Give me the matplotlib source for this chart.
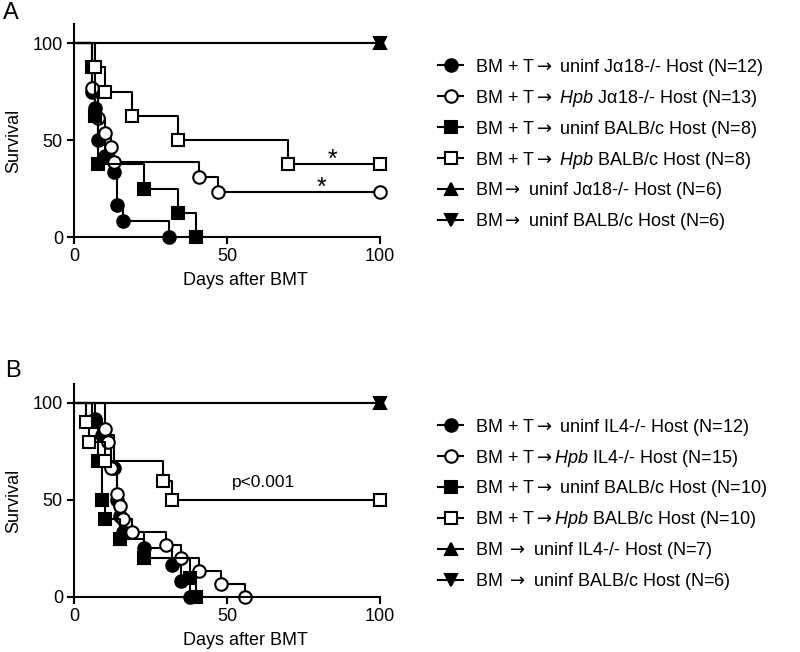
import matplotlib
matplotlib.use('Agg')
import matplotlib.pyplot as plt
from matplotlib.lines import Line2D

plt.rcParams['font.family'] = ['Liberation Sans', 'DejaVu Sans']
plt.rcParams['mathtext.fontset'] = 'custom'
plt.rcParams['mathtext.rm'] = 'DejaVu Sans'
plt.rcParams['mathtext.it'] = 'Liberation Sans:italic'

ARROW = '$\\rightarrow$'

# ---- panel A: Kaplan-Meier steps (day, % survival); last point at day 100 = censored
a_fc_days = [0, 6, 7, 8, 10, 13, 14, 16, 31]
a_fc_surv = [100, 75, 66.7, 50, 41.7, 33.3, 16.7, 8.3, 0]
a_oc_days = [0, 6, 8, 10, 12, 13, 41, 47, 100]
a_oc_surv = [100, 76.9, 61.5, 53.8, 46.2, 38.5, 30.8, 23.1, 23.1]
a_fs_days = [0, 6, 7, 8, 23, 34, 40]
a_fs_surv = [100, 87.5, 62.5, 37.5, 25, 12.5, 0]
a_os_days = [0, 7, 10, 19, 34, 70, 100]
a_os_surv = [100, 87.5, 75, 62.5, 50, 37.5, 37.5]
a_tu_days = [0, 100]
a_tu_surv = [100, 100]
a_td_days = [0, 100]
a_td_surv = [100, 100]
a_labels = [
    'BM + T' + ARROW + ' uninf J\u03b118-/- Host (N=12)',
    'BM + T' + ARROW + ' $\\mathit{Hpb}$ J\u03b118-/- Host (N=13)',
    'BM + T' + ARROW + ' uninf BALB/c Host (N=8)',
    'BM + T' + ARROW + ' $\\mathit{Hpb}$ BALB/c Host (N=8)',
    'BM' + ARROW + ' uninf J\u03b118-/- Host (N=6)',
    'BM' + ARROW + ' uninf BALB/c Host (N=6)',
]

# ---- panel B
b_fc_days = [0, 7, 9, 13, 14, 15, 16, 23, 32, 35, 38]
b_fc_surv = [100, 91.7, 83.3, 66.7, 50, 41.7, 33.3, 25, 16.7, 8.3, 0]
b_oc_days = [0, 10, 11, 12, 14, 15, 16, 19, 30, 35, 41, 48, 56]
b_oc_surv = [100, 86.7, 80, 66.7, 53.3, 46.7, 40, 33.3, 26.7, 20, 13.3, 6.7, 0]
b_fs_days = [0, 6, 8, 9, 10, 15, 23, 38, 40]
b_fs_surv = [100, 90, 70, 50, 40, 30, 20, 10, 0]
b_os_days = [0, 4, 5, 10, 29, 32, 100]
b_os_surv = [100, 90, 80, 70, 60, 50, 50]
b_tu_days = [0, 100]
b_tu_surv = [100, 100]
b_td_days = [0, 100]
b_td_surv = [100, 100]
b_labels = [
    'BM + T' + ARROW + ' uninf IL4-/- Host (N=12)',
    'BM + T' + ARROW + '$\\mathit{Hpb}$ IL4-/- Host (N=15)',
    'BM + T' + ARROW + ' uninf BALB/c Host (N=10)',
    'BM + T' + ARROW + '$\\mathit{Hpb}$ BALB/c Host (N=10)',
    'BM ' + ARROW + ' uninf IL4-/- Host (N=7)',
    'BM ' + ARROW + ' uninf BALB/c Host (N=6)',
]

styles = [
    dict(marker='o', mfc='black', ms=9),
    dict(marker='o', mfc='white', ms=9),
    dict(marker='s', mfc='black', ms=9),
    dict(marker='s', mfc='white', ms=9),
    dict(marker='^', mfc='black', ms=9),
    dict(marker='v', mfc='black', ms=9),
]
LW = 1.5


def plotSurvival(ax, series):
    for (days, surv), st in zip(series, styles):
        ax.plot(days, surv, drawstyle='steps-post', color='black', lw=LW,
                mec='black', mew=LW, markevery=list(range(1, len(days))),
                clip_on=False, **st)
    ax.set_xlim(0, 100)
    ax.set_ylim(0, 110)
    ax.set_xticks([0, 50, 100])
    ax.set_yticks([0, 50, 100])
    for side in ['top', 'right']:
        ax.spines[side].set_visible(False)
    for side in ['left', 'bottom']:
        ax.spines[side].set_linewidth(LW)
    ax.tick_params(direction='out', length=5, width=LW, labelsize=13, pad=3)
    ax.set_xlabel('Days after BMT', fontsize=13)
    ax.set_ylabel('Survival', fontsize=13)
    ax.xaxis.set_label_coords(0.56, -0.165)
    ax.yaxis.set_label_coords(-0.17, 0.45)


def addLegend(fig, ax, labels, top):
    handles = [Line2D([], [], color='black', lw=LW, mec='black', mew=LW, **st) for st in styles]
    ax.legend(handles, labels, loc='upper left', bbox_to_anchor=(0.5475, top),
              bbox_transform=fig.transFigure, frameon=False, fontsize=13,
              handlelength=1.4, handletextpad=0.65, labelspacing=0.55,
              borderpad=0, borderaxespad=0)


fig = plt.figure(figsize=(8, 6.52), dpi=100)
ax_a = fig.add_axes([0.0925, 0.6365, 0.3825, 0.3273])
ax_b = fig.add_axes([0.0925, 0.0844, 0.3825, 0.3273])

plotSurvival(ax_a, [(a_fc_days, a_fc_surv), (a_oc_days, a_oc_surv), (a_fs_days, a_fs_surv),
                    (a_os_days, a_os_surv), (a_tu_days, a_tu_surv), (a_td_days, a_td_surv)])
plotSurvival(ax_b, [(b_fc_days, b_fc_surv), (b_oc_days, b_oc_surv), (b_fs_days, b_fs_surv),
                    (b_os_days, b_os_surv), (b_tu_days, b_tu_surv), (b_td_days, b_td_surv)])

ax_a.text(84.5, 40, '*', ha='center', va='center', fontsize=18)
ax_a.text(81, 25.5, '*', ha='center', va='center', fontsize=18)
ax_b.text(62, 59, 'p<0.001', ha='center', va='center', fontsize=12.5)

addLegend(fig, ax_a, a_labels, 0.913)
addLegend(fig, ax_b, b_labels, 0.361)

fig.text(0.004, 0.997, 'A', fontsize=17, va='top', ha='left')
fig.text(0.006, 0.448, 'B', fontsize=17, va='top', ha='left')

fig.savefig('out.png', dpi=100)
